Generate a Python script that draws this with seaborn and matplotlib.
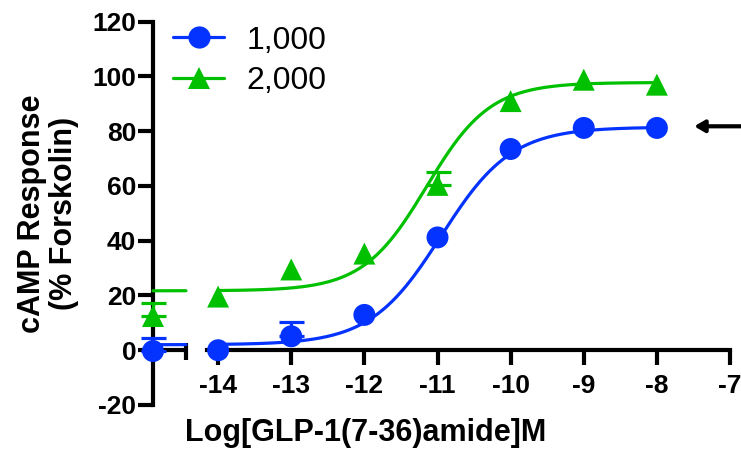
import numpy as np
import pandas as pd
import matplotlib
matplotlib.use('Agg')
import matplotlib.pyplot as plt
from matplotlib.lines import Line2D
import seaborn as sns

# data (first entry = control, drawn on the y axis)
x_ctrl = -14.89
log_conc = [-14, -13, -12, -11, -10, -9, -8]
resp_1000 = [-0.3, 0.0, 5.1, 12.9, 41.2, 73.5, 81.2, 81.2]
resp_2000 = [12.5, 19.6, 29.5, 35.3, 60.4, 91.0, 98.8, 97.0]
err_1000 = [4.6, 0, 5.3, 0, 0, 0, 0, 0]
err_2000 = [4.8, 0, 0, 0, 4.8, 0, 0, 0]
# 4PL fit: bottom, top, logEC50, hill
fit_1000 = [2.0, 81.5, -10.95, 0.9]
fit_2000 = [21.7, 97.8, -11.15, 1.0]
labels = ['1,000', '2,000']
colors = {'1,000': '#0433ff', '2,000': '#00c000'}
markers = {'1,000': 'o', '2,000': '^'}

sns.set_style('ticks')
plt.rcParams['font.family'] = ['Liberation Sans', 'DejaVu Sans']
plt.rcParams['axes.unicode_minus'] = False
for k in ['text.color', 'axes.labelcolor', 'axes.edgecolor',
          'xtick.color', 'ytick.color']:
    plt.rcParams[k] = 'black'

xs = [x_ctrl] + log_conc
pts = pd.DataFrame({
    'x': xs * 2,
    'y': resp_1000 + resp_2000,
    'err': err_1000 + err_2000,
    'dose': [labels[0]] * len(xs) + [labels[1]] * len(xs),
})


def four_pl(x, p):
    b, t, ec, h = p
    return b + (t - b) / (1 + 10 ** ((ec - x) * h))


rows = []
for lab, p in zip(labels, [fit_1000, fit_2000]):
    for seg, (a, b) in enumerate([(x_ctrl, -14.44), (-14, -8)]):
        xx = np.linspace(a, b, 200)
        for xv in xx:
            rows.append((xv, four_pl(xv, p), lab, seg))
curve = pd.DataFrame(rows, columns=['x', 'y', 'dose', 'seg'])

fig = plt.figure(figsize=(7.41, 4.57), dpi=100)
ax = fig.add_axes([0.2065, 0.1138, 0.7787, 0.8387])

for lab in labels:
    c = curve[curve.dose == lab]
    sns.lineplot(data=c, x='x', y='y', units='seg', estimator=None,
                 color=colors[lab], lw=2.3, ax=ax, zorder=3, clip_on=False)
    d = pts[(pts.dose == lab) & (pts.err > 0)]
    ax.errorbar(d.x, d.y, yerr=[np.zeros(len(d)), d.err], fmt='none',
                ecolor=colors[lab], elinewidth=2.3, capsize=9, capthick=2.3,
                zorder=3, clip_on=False)

sns.scatterplot(data=pts, x='x', y='y', hue='dose', style='dose',
                palette=colors, markers=markers, s=250, linewidth=0,
                ax=ax, zorder=5, clip_on=False, legend=False)

ax.set_xlim(x_ctrl, -7)
ax.set_ylim(-20, 120)
ax.set_xticks(range(-14, -6))
ax.set_yticks(range(-20, 121, 20))

for s in ['top', 'right']:
    ax.spines[s].set_visible(False)
ax.spines['bottom'].set_position(('data', 0))
ax.spines['bottom'].set_bounds(-14.15, -7)
ax.spines['bottom'].set_linewidth(3)
ax.spines['left'].set_linewidth(3)
ax.tick_params(axis='both', width=3, labelsize=19)
ax.tick_params(axis='y', length=11, pad=1)
ax.tick_params(axis='x', length=11, pad=6)
for t in ax.get_xticklabels() + ax.get_yticklabels():
    t.set_fontweight('bold')

# short first segment of the broken x axis
ax.plot([x_ctrl, -14.44], [0, 0], color='black', lw=3, zorder=2.5,
        clip_on=False, solid_capstyle='butt')
ax.plot([-14.44, -14.44], [-3.7, 2.6], color='black', lw=3, zorder=2.5,
        clip_on=False, solid_capstyle='butt')

ax.set_xlabel('Log[GLP-1(7-36)amide]M', fontsize=22, fontweight='bold')
ax.set_ylabel('cAMP Response\n(% Forskolin)', fontsize=22, fontweight='bold',
              linespacing=1.1)
ax.xaxis.set_label_coords(0.369, -0.035)
ax.yaxis.set_label_coords(-0.128, 0.5)

ax.annotate('', xy=(-7.49, 81.8), xytext=(-6.8, 81.8),
            arrowprops=dict(arrowstyle='-|>,head_length=0.6,head_width=0.35',
                            lw=3, color='black', shrinkA=0, shrinkB=0),
            annotation_clip=False)

handles = [Line2D([], [], color=colors[l], marker=markers[l], lw=2.3,
                  markersize=16, markeredgewidth=0) for l in labels]
ax.legend(handles, labels, loc='upper left', bbox_to_anchor=(-0.015, 1.065),
          frameon=False, fontsize=23, handlelength=1.6, handletextpad=0.7,
          labelspacing=0.32)

fig.savefig('out.png', dpi=100)
